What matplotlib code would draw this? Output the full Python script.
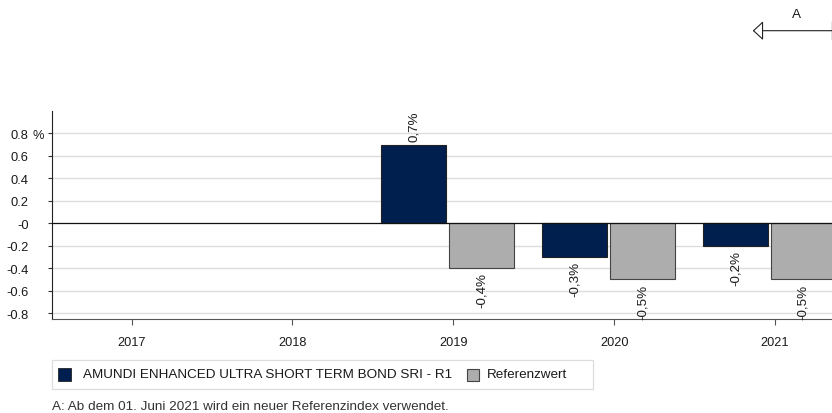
import matplotlib
matplotlib.use("Agg")
import matplotlib.pyplot as plt
import numpy as np
from matplotlib.patches import Rectangle

plt.rcParams['font.family'] = ['Liberation Sans', 'DejaVu Sans']

years = ['2017', '2018', '2019', '2020', '2021']
fund = [None, None, 0.7, -0.3, -0.2]
bench = [None, None, -0.4, -0.5, -0.5]
fund_labels = [None, None, '0,7%', '-0,3%', '-0,2%']
bench_labels = [None, None, '-0,4%', '-0,5%', '-0,5%']
yticks = [-0.8, -0.6, -0.4, -0.2, 0.0, 0.2, 0.4, 0.6, 0.8]
ytick_labels = ['-0.8', '-0.6', '-0.4', '-0.2', '-0', '0.2', '0.4', '0.6', '0.8']
fund_name = 'AMUNDI ENHANCED ULTRA SHORT TERM BOND SRI - R1'
bench_name = 'Referenzwert'
footnote = 'A: Ab dem 01. Juni 2021 wird ein neuer Referenzindex verwendet.'

navy = '#001E4E'
grey = '#ADADAD'
txt = '#1A1A1A'

W, H = 832, 414
fig = plt.figure(figsize=(W/100, H/100), dpi=100)
ax_left, ax_right = 52.3, 1000
ax_top, ax_bot = 112, 320
ax = fig.add_axes([ax_left/W, 1-ax_bot/H, (ax_right-ax_left)/W, (ax_bot-ax_top)/H])
slot = 160.85
ax.set_xlim(-0.493, -0.493 + (ax_right-ax_left)/slot)
ax.set_ylim(-0.852, 1.0)

x = np.arange(len(years))
bw = 0.402
fx = x - 0.246
bx = x + 0.176
vfs = 9.6
for i in range(len(years)):
    if fund[i] is not None:
        ax.bar(fx[i], fund[i], width=bw, color=navy, edgecolor='#222222', linewidth=0.8, zorder=3)
        v = fund[i]
        ax.text(fx[i], v + (0.035 if v > 0 else -0.035), fund_labels[i], rotation=90,
                ha='center', va='bottom' if v > 0 else 'top', fontsize=vfs, color=txt)
    if bench[i] is not None:
        ax.bar(bx[i], bench[i], width=bw, color=grey, edgecolor='#444444', linewidth=0.8, zorder=3)
        v = bench[i]
        ax.text(bx[i], v + (0.035 if v > 0 else -0.035), bench_labels[i], rotation=90,
                ha='center', va='bottom' if v > 0 else 'top', fontsize=vfs, color=txt)

ax.set_yticks(yticks)
ax.set_yticklabels(ytick_labels, fontsize=9.3, color=txt)
ax.set_xticks(x)
ax.set_xticklabels(years, fontsize=9.2, color=txt)
ax.tick_params(axis='y', length=3, width=0.8, color='#333333', pad=14)
ax.tick_params(axis='x', length=4.5, width=0.8, color='#555555', pad=8)
for yt in yticks:
    if yt != 0:
        ax.axhline(yt, color='#DDDDDD', linewidth=1.0, zorder=1)
ax.axhline(0, color='#111111', linewidth=0.9, zorder=4)
ax.spines['top'].set_visible(False)
ax.spines['right'].set_visible(False)
ax.spines['left'].set_color('#222222')
ax.spines['bottom'].set_color('#555555')

# "%" unit next to top tick label, aligned with that label
ax.annotate('%', xy=(0, 0.8), xycoords=('axes fraction', 'data'), xytext=(-19.5/1.389, 0),
            textcoords='offset points', fontsize=9.3, ha='left', va='center_baseline', color=txt)

# Legend box
lx0, ly0, lx1, ly1 = 52, 361, 593, 390
fig.patches.append(Rectangle((lx0/W, 1-ly1/H), (lx1-lx0)/W, (ly1-ly0)/H, transform=fig.transFigure,
                             facecolor='white', edgecolor='#DDDDDD', linewidth=0.9))
ymid = 375.5
sq = 13
fig.patches.append(Rectangle((57.5/W, 1-(ymid+sq/2)/H), sq/W, sq/H, transform=fig.transFigure,
                             facecolor=navy, edgecolor='#222222', linewidth=0.6))
fig.text(83/W, 1-ymid/H, fund_name, fontsize=9.7, va='center', ha='left', color=txt)
sq2 = 12
fig.patches.append(Rectangle((467/W, 1-(ymid+sq2/2)/H), sq2/W, sq2/H, transform=fig.transFigure,
                             facecolor=grey, edgecolor='#444444', linewidth=0.8))
fig.text(487/W, 1-ymid/H, bench_name, fontsize=9.7, va='center', ha='left', color=txt)

fig.text(52/W, 1-407/H, footnote, fontsize=9.7, va='center', ha='left', color='#333333')

# Arrow A
ay = 31.7
ax.annotate('', xy=(752.7/W, 1-ay/H), xytext=(840/W, 1-ay/H), xycoords='figure fraction',
            textcoords='figure fraction',
            arrowprops=dict(arrowstyle='-|>,head_length=0.65,head_width=0.6', mutation_scale=10,
                            facecolor='white', edgecolor='#222222', linewidth=0.8,
                            shrinkA=0, shrinkB=0))
fig.add_artist(plt.Line2D([831.5/W, 831.5/W], [1-23/H, 1-40/H], color='#222222', linewidth=0.9,
                          transform=fig.transFigure))
fig.text(796/W, 1-15/H, 'A', fontsize=9.7, ha='center', va='center', color=txt)

fig.savefig('out.png', dpi=100)
